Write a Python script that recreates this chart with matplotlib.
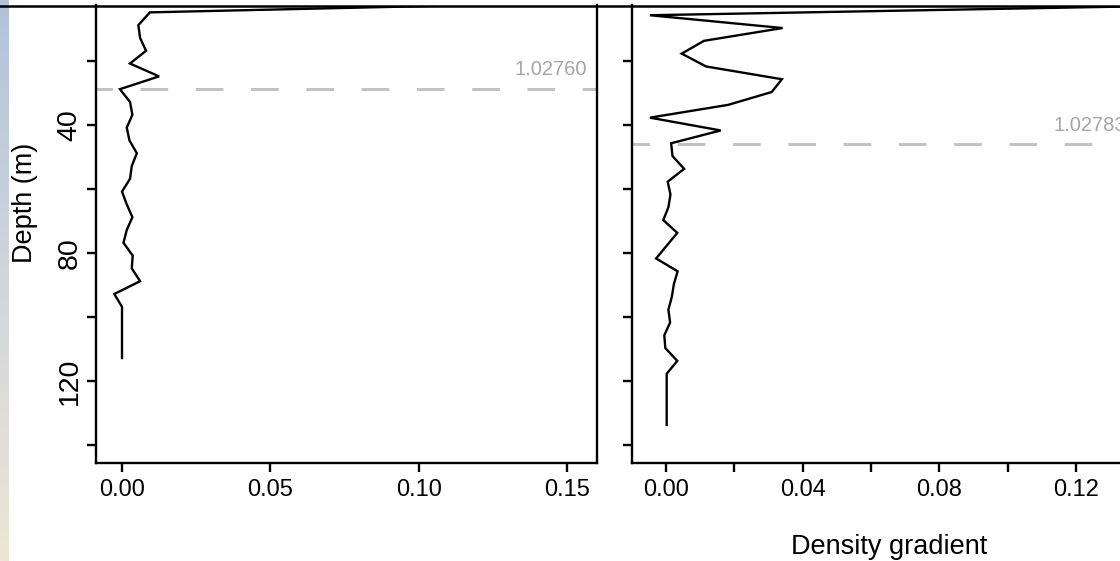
import numpy as np
import matplotlib
matplotlib.use("Agg")
import matplotlib.pyplot as plt
from matplotlib.lines import Line2D
import matplotlib.transforms as mtransforms

plt.rcParams['font.family'] = ['Liberation Sans', 'DejaVu Sans']
plt.rcParams['lines.scale_dashes'] = False

# ---------------- data ----------------
left_depth = [0.8, 4.8, 8.8, 12.8, 16.8, 20.8, 24.8, 28.8, 32.8, 36.8, 40.8, 44.8,
              48.8, 52.8, 56.8, 60.8, 64.8, 68.8, 72.8, 76.8, 80.8, 84.8, 88.8,
              92.8, 96.8, 100.8, 104.8, 108.8, 112.8]
left_grad = [0.200, 0.0094, 0.0055, 0.0061, 0.0081, 0.0027, 0.0125, -0.0007,
             0.0027, 0.0035, 0.0016, 0.0025, 0.0050, 0.0033, 0.0027, 0.0000,
             0.0016, 0.0035, 0.0016, 0.0005, 0.0036, 0.0033, 0.0061, -0.0026,
             0.0000, 0.0000, 0.0000, 0.0000, 0.0000]

right_depth = [1.7, 5.7, 9.7, 13.7, 17.7, 21.7, 25.7, 29.7, 33.7, 37.7, 41.7, 45.7,
               49.7, 53.7, 57.7, 61.7, 65.7, 69.7, 73.7, 77.7, 81.7, 85.7, 89.7,
               93.7, 97.7, 101.7, 105.7, 109.7, 113.7, 117.7, 121.7, 125.7,
               129.7, 133.7]
right_grad = [0.200, -0.0047, 0.0341, 0.0111, 0.0046, 0.0117, 0.0339, 0.0309,
              0.0182, -0.0047, 0.0160, 0.0015, 0.0019, 0.0053, 0.0005, 0.0013,
              0.0007, -0.0008, 0.0033, 0.0002, -0.0029, 0.0034, 0.0023, 0.0017,
              0.0007, 0.0012, -0.0005, -0.0002, 0.0033, 0.0002, 0.0002, 0.0002,
              0.0002, 0.0002]

left_mld = 28.8
right_mld = 45.9
left_density_label = "1.02760"
right_density_label = "1.02783"

left_xticks = [0.00, 0.05, 0.10, 0.15]
left_xticklabels = ["0.00", "0.05", "0.10", "0.15"]
right_xticks = [0.00, 0.02, 0.04, 0.06, 0.08, 0.10, 0.12]
right_xticklabels = ["0.00", "", "0.04", "", "0.08", "", "0.12"]
yticks = [20, 40, 60, 80, 100, 120, 140]
left_yticklabels = ["", "40", "", "80", "", "120", ""]

xlabel = "Density gradient"
ylabel = "Depth (m)"

# ---------------- figure ----------------
W, H = 1120, 561
fig = plt.figure(figsize=(W / 100, H / 100), dpi=100)
fig.patch.set_facecolor("white")

# gradient strip on the far left
gax = fig.add_axes([0, 0, 8.7 / W, 1])
t = np.linspace(0, 1, 256)[:, None]
c_top = np.array([176, 195, 220]) / 255
c_mid = np.array([208, 214, 220]) / 255
c_bot = np.array([238, 229, 212]) / 255
img = np.where(t < 0.5,
               c_top * (1 - t / 0.5) + c_mid * (t / 0.5),
               c_mid * (1 - (t - 0.5) / 0.5) + c_bot * ((t - 0.5) / 0.5))
gax.imshow(img[:, None, :], aspect="auto", extent=[0, 1, 1, 0])
gax.axis("off")

ax_bottom_px = 463
ax_top_px = 5.5
axL = fig.add_axes([96 / W, (H - ax_bottom_px) / H, 501 / W, (ax_bottom_px - ax_top_px) / H])
axR = fig.add_axes([632 / W, (H - ax_bottom_px) / H, 504 / W, (ax_bottom_px - ax_top_px) / H])

ylim = (145.6, 2.66)
grey_line = "#c2c2c2"
grey_text = "#a6a6a6"

panels = [
    (axL, left_grad, left_depth, left_mld, left_density_label,
     (-0.00877, 0.16015), left_xticks, left_xticklabels, left_yticklabels, 8.1, 22.8),
    (axR, right_grad, right_depth, right_mld, right_density_label,
     (-0.00995, 0.1375), right_xticks, right_xticklabels, [""] * len(yticks), 7.2, 40.3),
]

for ax, g, d, mld, lab, xl, xt, xtl, ytl, dash_off, lab_y in panels:
    ax.plot(g, d, color="black", lw=1.7, solid_joinstyle="miter", zorder=3)
    ax.axhline(mld, color=grey_line, lw=2.2, linestyle=(dash_off, (19.9, 19.9)), zorder=2)
    trans = mtransforms.blended_transform_factory(ax.transAxes, ax.transData)
    ax.text(0.981, lab_y, lab, transform=trans, ha="right", va="center",
            fontsize=14.5, color=grey_text)
    ax.set_xlim(*xl)
    ax.set_ylim(*ylim)
    ax.set_xticks(xt)
    ax.set_xticklabels(xtl)
    ax.set_yticks(yticks)
    ax.set_yticklabels(ytl, rotation=90, va="center")
    ax.spines["top"].set_visible(False)
    for s in ["left", "bottom", "right"]:
        ax.spines[s].set_linewidth(1.7)
    ax.tick_params(axis="both", direction="out", length=6.5, width=1.7, color="black")
    ax.tick_params(axis="x", labelsize=17, pad=5)
    ax.tick_params(axis="y", labelsize=20.5, pad=3)
    ax.set_facecolor("none")

# top border line across the whole picture
fig.add_artist(Line2D([0, 1], [1 - 5.8 / H, 1 - 5.8 / H], transform=fig.transFigure,
                      color="black", lw=1.8))

# axis titles
fig.text(889 / W, (H - 554) / H, xlabel, ha="center", va="baseline", fontsize=19.5)
fig.text(25 / W, (H - 203) / H, ylabel, ha="center", va="center", rotation=90, fontsize=19.5)

fig.savefig("out.png", dpi=100)
